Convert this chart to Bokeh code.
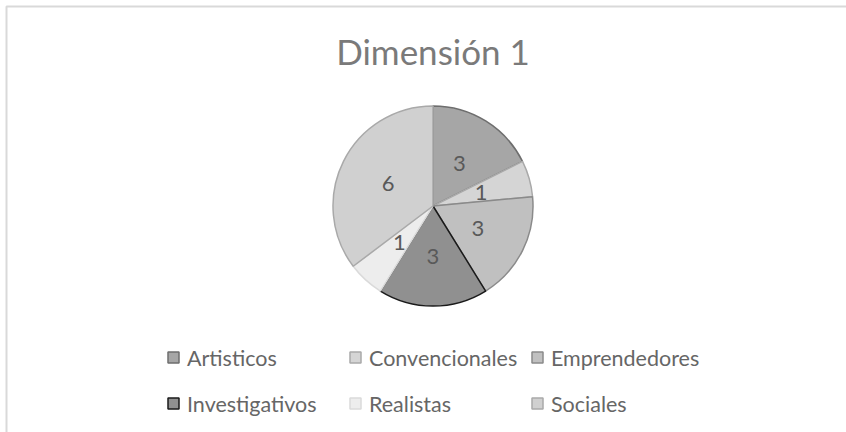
import numpy as np
from bokeh.plotting import figure
from bokeh.models import Range1d, ColumnDataSource
from bokeh.core.properties import value
from bokeh.embed import file_html
from bokeh.resources import INLINE

title = "Dimensión 1"
categories = ["Artisticos", "Convencionales", "Emprendedores",
              "Investigativos", "Realistas", "Sociales"]
values = [3, 1, 3, 3, 1, 6]
fill_colors = ["#a6a6a6", "#d5d5d5", "#c0c0c0", "#909090", "#ededed", "#d0d0d0"]
line_colors = ["#6e6e6e", "#a9a9a9", "#8a8a8a", "#1a1a1a", "#dadada", "#a9a9a9"]

FONT = "Lato"
W, H = 846, 432
# data coordinates = page pixels, y measured upward: y = 432 - ypage
cx, cy, R = 432.5, 432 - 205.5, 100.0
label_r = 50.0

p = figure(width=W, height=H, x_range=Range1d(0, W), y_range=Range1d(0, H),
           output_backend="svg", toolbar_location=None, min_border=0)
p.axis.visible = False
p.grid.visible = False
p.outline_line_color = None
p.background_fill_color = "white"
p.border_fill_color = "white"

# chart frame (only its top and left edges fall inside the picture)
p.line(x=[6, 6, W + 5], y=[-5, 426, 426], line_color="#d9d9d9", line_width=2)

total = float(sum(values))
cum = np.cumsum([0] + values)
start = np.pi / 2 - 2 * np.pi * cum[:-1] / total
end = np.pi / 2 - 2 * np.pi * cum[1:] / total
mid = (start + end) / 2

src = ColumnDataSource(dict(
    cat=categories, val=[str(v) for v in values],
    start=start, end=end, fill=fill_colors, line=line_colors,
    lx=cx + label_r * np.cos(mid), ly=cy + label_r * np.sin(mid),
))

p.wedge(x=cx, y=cy, radius=R, start_angle="start", end_angle="end",
        direction="clock", fill_color="fill", line_color="line",
        line_width=1.5, source=src)

p.text(x="lx", y="ly", text="val", source=src, text_align="center",
       text_baseline="middle", text_font=value(FONT),
       text_font_size="22px", text_color="#595959")

# title
p.text(x=[cx], y=[432 - 50], text=[title], text_align="center",
       text_baseline="middle", text_font=value(FONT),
       text_font_size="35px", text_color="#7a7a7a")

# legend (3 columns x 2 rows)
col_x = [173.0, 355.0, 537.0]
row_y = [432 - 357, 432 - 403]
idx = np.arange(len(categories))
bx = np.array([col_x[i % 3] for i in idx])
by = np.array([row_y[i // 3] for i in idx], dtype=float)
lsrc = ColumnDataSource(dict(bx=bx, by=by, tx=bx + 13.5, cat=categories,
                             fill=fill_colors, line=line_colors))
p.rect(x="bx", y="by", width=11, height=11, fill_color="fill",
       line_color="line", line_width=1.5, source=lsrc)
p.text(x="tx", y="by", text="cat", source=lsrc, text_align="left",
       text_baseline="middle", text_font=value(FONT),
       text_font_size="21.5px", text_color="#666666")

open("out.html", "w").write(file_html(p, INLINE))
